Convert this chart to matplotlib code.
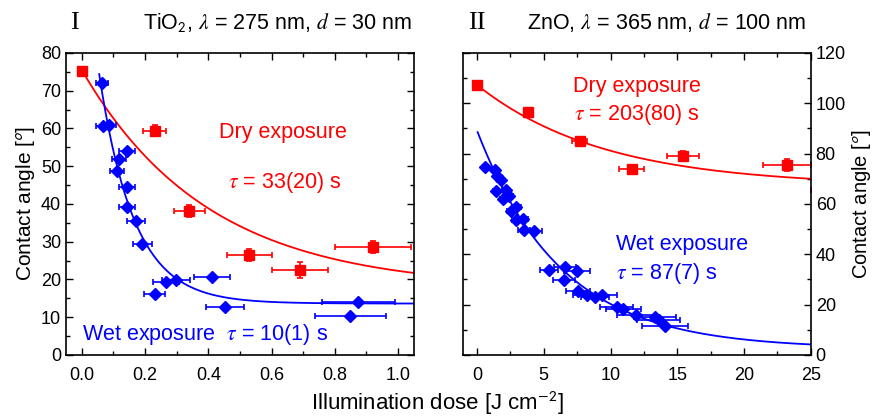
import numpy as np
import matplotlib.pyplot as plt
from matplotlib.ticker import MultipleLocator

plt.rcParams['font.family'] = ['Liberation Sans', 'DejaVu Sans']
plt.rcParams['mathtext.fontset'] = 'stix'

RED = '#ff0000'
BLUE = '#0000ff'

# --- I: TiO2 ---
ti_dry_x = [0.0, 0.23, 0.34, 0.53, 0.69, 0.92]
ti_dry_y = [75.3, 59.4, 38.1, 26.5, 22.5, 28.5]
ti_dry_xerr = [0.01, 0.035, 0.05, 0.07, 0.09, 0.12]
ti_dry_yerr = [0.6, 1.4, 1.6, 1.6, 2.0, 1.6]

ti_wet_x = [0.063, 0.066, 0.087, 0.143, 0.117, 0.111, 0.143, 0.143,
            0.171, 0.191, 0.230, 0.266, 0.298, 0.413, 0.452, 0.875, 0.849]
ti_wet_y = [72.0, 60.7, 60.8, 54.1, 51.9, 48.7, 44.6, 39.3,
            35.6, 29.3, 16.2, 19.3, 19.9, 20.7, 12.6, 14.0, 10.4]
ti_wet_xerr = [0.019, 0.02, 0.02, 0.024, 0.022, 0.023, 0.024, 0.025,
               0.028, 0.03, 0.034, 0.04, 0.044, 0.057, 0.06, 0.115, 0.112]

# exponential fits: y = y_inf + A * exp(-(x - x0) / t)
ti_dry_fit = dict(y_inf=17.5, A=58.0, t=0.40, x0=0.0)
ti_wet_fit = dict(y_inf=13.6, A=60.8, t=0.11, x0=0.055)

# --- II: ZnO ---
zn_dry_x = [0.0, 3.84, 7.71, 11.58, 15.44, 23.2, 27.5]
zn_dry_y = [107.3, 96.4, 85.0, 73.9, 79.2, 75.5, 65.6]
zn_dry_xerr = [0.2, 0.3, 0.56, 0.94, 1.22, 1.8, 2.5]
zn_dry_yerr = [0.8, 1.0, 1.5, 1.5, 1.8, 2.5, 2.0]

zn_wet_x = [0.58, 1.32, 1.52, 1.82, 1.40, 2.15, 1.95, 2.40, 2.52, 2.94,
            2.94, 3.44, 3.52, 4.27, 5.40, 6.58, 7.48, 6.52, 7.53, 8.21,
            8.83, 9.33, 10.46, 10.95, 11.9, 13.32, 13.6, 14.1]
zn_wet_y = [74.8, 73.5, 71.1, 69.5, 65.3, 65.6, 61.9, 63.2, 57.3, 58.9,
            53.6, 54.0, 49.7, 49.4, 33.9, 34.8, 33.4, 29.8, 25.2, 23.8,
            22.9, 23.6, 19.1, 18.3, 16.0, 15.2, 13.9, 11.3]
zn_wet_xerr = [0.07, 0.16, 0.18, 0.22, 0.17, 0.26, 0.23, 0.29, 0.3, 0.35,
               0.35, 0.41, 0.42, 0.6, 0.7, 0.82, 0.95, 0.8, 0.9, 1.0,
               1.06, 1.12, 1.25, 1.3, 1.43, 1.55, 1.6, 1.72]

zn_dry_fit = dict(y_inf=67.1, A=40.2, t=9.5, x0=0.0)
zn_wet_fit = dict(y_inf=2.5, A=86.0, t=6.3, x0=0.05)


def fit_curve(p, x_end):
    x = np.linspace(p['x0'], x_end, 300)
    return x, p['y_inf'] + p['A'] * np.exp(-(x - p['x0']) / p['t'])


def style_axes(ax):
    ax.tick_params(which='both', direction='in', top=True, right=True,
                   labelsize=13, width=1.0)
    ax.tick_params(which='major', length=5)
    ax.tick_params(which='minor', length=3)
    ax.tick_params(axis='x', pad=9)
    for s in ax.spines.values():
        s.set_linewidth(1.2)


fig = plt.figure(figsize=(8.74, 4.17), dpi=100)
ax1 = fig.add_axes([0.0755, 0.149, 0.398, 0.724])
ax2 = fig.add_axes([0.5297, 0.149, 0.398, 0.724])

eb = dict(capsize=2.5, elinewidth=1.2, capthick=1.2, linestyle='none')
fs_note = 15.5

# panel I
x, y = fit_curve(ti_dry_fit, 1.06)
ax1.plot(x, y, color=RED, lw=1.3)
x, y = fit_curve(ti_wet_fit, 1.06)
ax1.plot(x, y, color=BLUE, lw=1.3)
ax1.errorbar(ti_dry_x, ti_dry_y, xerr=ti_dry_xerr, yerr=ti_dry_yerr,
             color=RED, marker='s', ms=6.5, **eb)
ax1.errorbar(ti_wet_x, ti_wet_y, xerr=ti_wet_xerr,
             color=BLUE, marker='D', ms=6.5, **eb)
ax1.set_xlim(-0.05, 1.05)
ax1.set_ylim(0, 80)
ax1.xaxis.set_major_locator(MultipleLocator(0.2))
ax1.xaxis.set_minor_locator(MultipleLocator(0.1))
ax1.yaxis.set_major_locator(MultipleLocator(10))
ax1.yaxis.set_minor_locator(MultipleLocator(5))
ax1.set_ylabel('Contact angle [$^\\mathsf{o}$]', fontsize=15, labelpad=3)
style_axes(ax1)
ax1.text(0.625, 0.735, 'Dry exposure', color=RED, fontsize=fs_note,
         ha='center', va='center', transform=ax1.transAxes)
ax1.text(0.63, 0.57, '$\\tau$ = 33(20) s', color=RED, fontsize=fs_note,
         ha='center', va='center', transform=ax1.transAxes)
ax1.text(0.045, 0.067, 'Wet exposure  $\\tau$ = 10(1) s', color=BLUE,
         fontsize=fs_note, ha='left', va='center', transform=ax1.transAxes)

# panel II
x, y = fit_curve(zn_dry_fit, 25.5)
ax2.plot(x, y, color=RED, lw=1.3)
x, y = fit_curve(zn_wet_fit, 25.5)
ax2.plot(x, y, color=BLUE, lw=1.3)
ax2.errorbar(zn_dry_x, zn_dry_y, xerr=zn_dry_xerr, yerr=zn_dry_yerr,
             color=RED, marker='s', ms=6.5, **eb)
ax2.errorbar(zn_wet_x, zn_wet_y, xerr=zn_wet_xerr,
             color=BLUE, marker='D', ms=6.5, **eb)
ax2.set_xlim(-1.05, 25)
ax2.set_ylim(0, 120)
ax2.xaxis.set_major_locator(MultipleLocator(5))
ax2.xaxis.set_minor_locator(MultipleLocator(2.5))
ax2.yaxis.set_major_locator(MultipleLocator(20))
ax2.yaxis.set_minor_locator(MultipleLocator(10))
style_axes(ax2)
ax2.tick_params(labelleft=False, labelright=True)
ax2.yaxis.set_label_position('right')
ax2.set_ylabel('Contact angle [$^\\mathsf{o}$]', fontsize=14.5, labelpad=3)
ax2.text(0.5, 0.89, 'Dry exposure', color=RED, fontsize=fs_note,
         ha='center', va='center', transform=ax2.transAxes)
ax2.text(0.5, 0.795, '$\\tau$ = 203(80) s', color=RED, fontsize=fs_note,
         ha='center', va='center', transform=ax2.transAxes)
ax2.text(0.44, 0.366, 'Wet exposure', color=BLUE, fontsize=fs_note,
         ha='left', va='center', transform=ax2.transAxes)
ax2.text(0.44, 0.268, '$\\tau$ = 87(7) s', color=BLUE, fontsize=fs_note,
         ha='left', va='center', transform=ax2.transAxes)

# titles and panel numbers
fig.text(0.085, 0.945, 'I', family='Liberation Serif', fontsize=19,
         ha='center', va='center')
fig.text(0.472, 0.945, 'TiO$_\\mathsf{2}$, $\\lambda$ = 275 nm, $d$ = 30 nm',
         fontsize=15.5, ha='right', va='center')
fig.text(0.546, 0.945, 'II', family='Liberation Serif', fontsize=19,
         ha='center', va='center')
fig.text(0.922, 0.945, 'ZnO, $\\lambda$ = 365 nm, $d$ = 100 nm',
         fontsize=15.5, ha='right', va='center')
fig.text(0.5, 0.032, 'Illumination dose [J cm$^{\\mathsf{-2}}$]',
         fontsize=16, ha='center', va='center')

fig.savefig('out.png', dpi=100)
